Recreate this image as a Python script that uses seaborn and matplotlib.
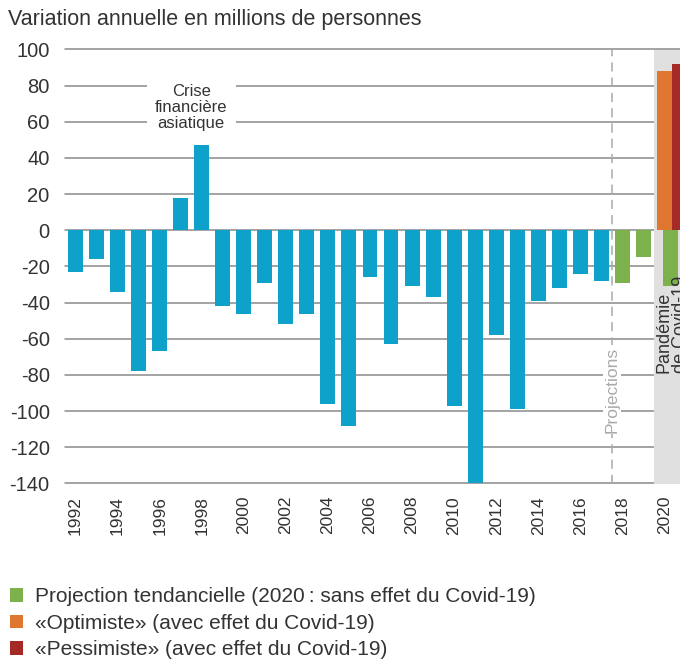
import matplotlib
matplotlib.use("Agg")
import matplotlib.pyplot as plt
from matplotlib.patches import Patch
import seaborn as sns

# -------------------------------------------------------
# Data (millions of people, annual change)
# -------------------------------------------------------
years = list(range(1992, 2020))
values = [-23, -16, -34, -78, -67, 18, 47, -42, -46, -29,
          -52, -46, -96, -108, -26, -63, -31, -37, -97, -140,
          -58, -99, -39, -32, -24, -28, -29, -15]
series = ["hist"] * 26 + ["proj"] * 2

year_2020 = 2020
trend_2020 = -31
optimist_2020 = 88
pessimist_2020 = 92

legend_labels = [
    "Projection tendancielle (2020\u2009: sans effet du Covid-19)",
    "\u00abOptimiste\u00bb (avec effet du Covid-19)",
    "\u00abPessimiste\u00bb (avec effet du Covid-19)",
]
yticks = list(range(-140, 101, 20))
xticks = list(range(1992, 2021, 2))

BLUE = "#0ea1c9"
GREEN = "#7cb14b"
ORANGE = "#e07731"
RED = "#a52a25"
TEXT = "#333333"

sns.set_theme(style="white")
plt.rcParams["font.family"] = ["Liberation Sans", "DejaVu Sans"]

fig = plt.figure(figsize=(6.8, 6.6), dpi=100)
ax = fig.add_axes([65 / 680, 1 - 483.5 / 660, 615 / 680, 434 / 660])

# main bars (history + projections 2018-2019)
sns.barplot(x=years, y=values, hue=series, palette={"hist": BLUE, "proj": GREEN},
            native_scale=True, width=0.71, dodge=False, errorbar=None,
            saturation=1, legend=False, ax=ax, zorder=3, linewidth=0)
# 2020 bars
sns.barplot(x=[year_2020 + 0.29], y=[trend_2020], color=GREEN, native_scale=True,
            width=0.71, errorbar=None, saturation=1, ax=ax, zorder=3, linewidth=0)
sns.barplot(x=[year_2020], y=[optimist_2020], color=ORANGE, native_scale=True,
            width=0.71, errorbar=None, saturation=1, ax=ax, zorder=3, linewidth=0)
sns.barplot(x=[year_2020 + 0.71], y=[pessimist_2020], color=RED, native_scale=True,
            width=0.71, errorbar=None, saturation=1, ax=ax, zorder=4, linewidth=0)

ax.set_xlim(1991.5, 2020.74)
ax.set_ylim(-140, 100)

# grid
for yv in yticks:
    ax.axhline(yv, color="#8a8a8a", lw=1.1, zorder=0.5, clip_on=False)
ax.axvspan(2019.5, 2021.5, color="#e0e0e0", zorder=1, lw=0)
ax.axvline(2017.5, color="#aaaaaa", lw=1.1, ls=(0, (6, 4)), zorder=1)

for s in ax.spines.values():
    s.set_visible(False)

ax.set_yticks(yticks)
ax.set_yticklabels([str(v) for v in yticks])
ax.set_xticks(xticks)
ax.set_xticklabels([str(v) for v in xticks], rotation=90)
ax.tick_params(axis="y", length=0, pad=11, labelsize=14.5, labelcolor=TEXT)
ax.tick_params(axis="x", length=0, pad=9, labelsize=12.5, labelcolor=TEXT)
ax.set_xlabel("")
ax.set_ylabel("")

# annotations
ax.text(1997.5, 68, "Crise\nfinanci\u00e8re\nasiatique", ha="center", va="center",
        fontsize=12, color=TEXT, linespacing=1.1, zorder=2,
        bbox=dict(facecolor="white", edgecolor="none", pad=6))
ax.text(2017.5, -88, "Projections", rotation=90, ha="center", va="center",
        fontsize=12.5, color="#aaaaaa", zorder=2,
        bbox=dict(facecolor="white", edgecolor="none", pad=1))
ax.text(2020.36, -79, "Pand\u00e9mie\nde Covid-19", rotation=90, ha="center",
        va="bottom", multialignment="left", fontsize=13, color=TEXT,
        linespacing=1.0, zorder=5)

fig.text(8 / 680, 1 - 20 / 660, "Variation annuelle en millions de personnes",
         ha="left", va="center", fontsize=15.5, color=TEXT)

handles = [Patch(facecolor=c, edgecolor="none") for c in (GREEN, ORANGE, RED)]
leg = fig.legend(handles, legend_labels, loc="upper left",
                 bbox_to_anchor=(4 / 680, 1 - 581 / 660), frameon=False,
                 fontsize=15, handlelength=0.62, handleheight=0.62,
                 handletextpad=0.55, labelspacing=0.36, borderaxespad=0.0,
                 borderpad=0.3)
for t in leg.get_texts():
    t.set_color(TEXT)

fig.savefig("out.png", dpi=100)
